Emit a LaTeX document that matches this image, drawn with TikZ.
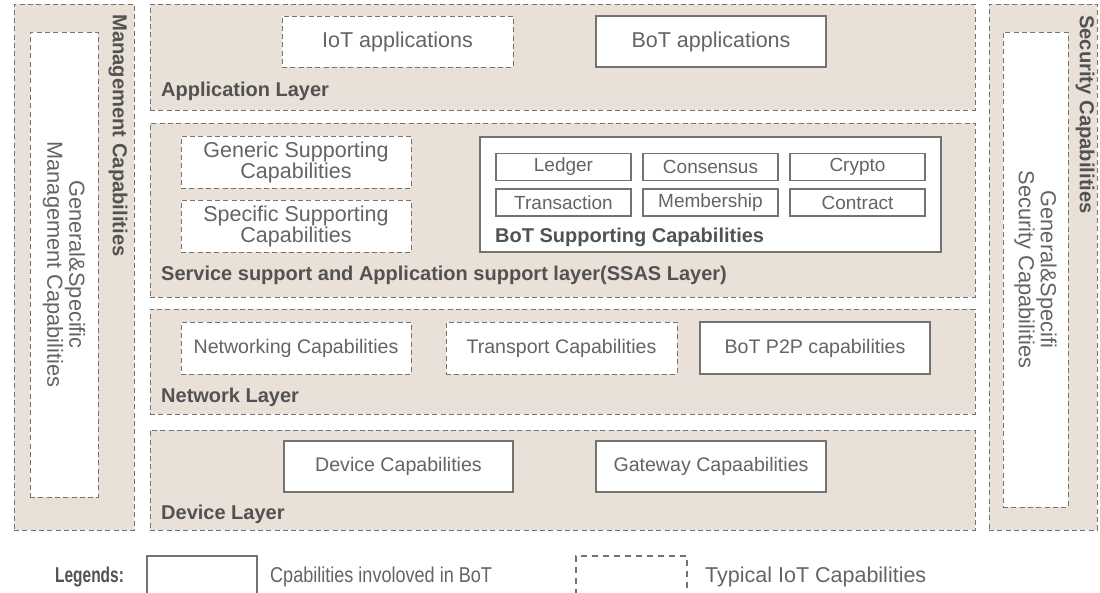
\documentclass[tikz,border=0pt]{standalone}
\usepackage{fontspec}
\setmainfont{Liberation Sans}
\definecolor{beige}{RGB}{233,224,215}
\definecolor{dline}{RGB}{115,115,115}
\definecolor{txt}{RGB}{100,100,100}
\definecolor{btxt}{RGB}{82,82,82}
\tikzset{
  panel/.style={draw=dline, line width=0.9pt, dash pattern=on 5pt off 3.3pt, fill=beige},
  iotbox/.style={draw=dline, line width=0.9pt, dash pattern=on 5pt off 3.3pt, fill=white, text=txt, align=center, font=\fontsize{21.5}{21}\selectfont},
  botbox/.style={draw=dline, line width=1.3pt, fill=white, text=txt, align=center, font=\fontsize{21.5}{21}\selectfont},
  lowfont/.style={font=\fontsize{19.6}{21}\selectfont},
  smallbox/.style={draw=dline, line width=1.1pt, fill=white, text=txt, font=\fontsize{19}{20}\selectfont, minimum width=135pt, minimum height=27pt, inner sep=0pt},
  layerlab/.style={anchor=base west, text=btxt, font=\bfseries\fontsize{20}{22}\selectfont, inner sep=0pt},
  sidelab/.style={rotate=-90, anchor=west, text=btxt, font=\bfseries\fontsize{20.2}{22}\selectfont, inner sep=0pt},
  sidetxt/.style={rotate=-90, text=txt, align=center, font=\fontsize{21.8}{22}\selectfont},
  legtext/.style={anchor=base west, text=txt, font=\fontsize{21.5}{22}\selectfont, inner sep=0pt}
}
\begin{document}
\begin{tikzpicture}[x=1pt,y=-1pt]
\useasboundingbox (0,0) rectangle (1100,593);
% side panels
\node[panel, minimum width=120pt, minimum height=526pt, inner sep=0pt] (mgmt) at (74,267) {};
\node[iotbox, minimum width=68pt, minimum height=465pt, inner sep=0pt] (mgmtin) at (64,264.5) {};
\node[sidetxt] (mgmttxt) at (mgmtin.center) {General\&Specific\\Management Capabilities};
\node[sidelab] (mgmtlab) at (118,14) {Management Capabilities};

\node[panel, minimum width=108pt, minimum height=526pt, inner sep=0pt] (sec) at (1043,267) {};
\node[iotbox, minimum width=65pt, minimum height=475pt, inner sep=0pt] (secin) at (1035.5,269.5) {};
\node[sidetxt] (sectxt) at (secin.center) {General\&Specifi\\Security Capabilities};
\node[sidelab] (seclab) at (1085,15) {Security Capabilities};

% application layer
\node[panel, minimum width=825pt, minimum height=106pt, inner sep=0pt] (app) at (562.5,57) {};
\node[iotbox, minimum width=231pt, minimum height=51pt, inner sep=0pt] (iotapp) at (397.5,41.5) {IoT applications};
\node[botbox, minimum width=230pt, minimum height=51pt, inner sep=0pt] (botapp) at (711,41.5) {BoT applications};
\node[layerlab] (applab) at (161,96.5) {Application Layer};

% SSAS layer
\node[panel, minimum width=825pt, minimum height=174pt, inner sep=0pt] (ssas) at (562.5,210) {};
\node[iotbox, minimum width=230pt, minimum height=52pt, inner sep=0pt] (gen) at (296,162) {Generic Supporting\\Capabilities};
\node[iotbox, minimum width=230pt, minimum height=52pt, inner sep=0pt] (spec) at (296,226) {Specific Supporting\\Capabilities};
\node[botbox, minimum width=461pt, minimum height=115pt, inner sep=0pt] (botsup) at (710.5,194.5) {};
\node[smallbox] (ledger) at (563.5,167) {Ledger};
\node[smallbox] (cons) at (710.5,167) {Consensus};
\node[smallbox] (crypto) at (857.5,167) {Crypto};
\node[smallbox] (trans) at (563.5,202.5) {Transaction};
\node[smallbox] (memb) at (710.5,202.5) {Membership};
\node[smallbox] (contr) at (857.5,202.5) {Contract};
\node[layerlab] (botsuplab) at (495,243) {BoT Supporting Capabilities};
\node[layerlab] (ssaslab) at (161,281) {Service support and Application support layer(SSAS Layer)};

% network layer
\node[panel, minimum width=825pt, minimum height=105pt, inner sep=0pt] (net) at (562.5,361.5) {};
\node[iotbox, lowfont, minimum width=230pt, minimum height=52pt, inner sep=0pt] (netcap) at (296,348) {Networking Capabilities};
\node[iotbox, lowfont, minimum width=231pt, minimum height=52pt, inner sep=0pt] (transp) at (561.5,348) {Transport Capabilities};
\node[botbox, lowfont, minimum width=230pt, minimum height=52pt, inner sep=0pt] (p2p) at (815,348) {BoT P2P capabilities};
\node[layerlab] (netlab) at (161,402) {Network Layer};

% device layer
\node[panel, minimum width=825pt, minimum height=100pt, inner sep=0pt] (dev) at (562.5,480) {};
\node[botbox, lowfont, minimum width=229pt, minimum height=51pt, inner sep=0pt] (devcap) at (398.5,466.5) {Device Capabilities};
\node[botbox, lowfont, minimum width=230pt, minimum height=51pt, inner sep=0pt] (gw) at (711,466.5) {Gateway Capaabilities};
\node[layerlab] (devlab) at (161,519.5) {Device Layer};

% legend
\node[layerlab, font=\bfseries\fontsize{21.5}{22}\selectfont, xscale=0.72] (leg) at (55,582) {Legends:};
\node[draw=dline, line width=1.8pt, fill=white, minimum width=110pt, minimum height=42pt, inner sep=0pt] (legbot) at (202,577) {};
\node[legtext, xscale=0.84] (legbottxt) at (270,582) {Cpabilities involoved in BoT};
\node[draw=dline, line width=1.8pt, dash pattern=on 6pt off 5pt, fill=white, minimum width=111pt, minimum height=42pt, inner sep=0pt] (legiot) at (631.5,577) {};
\node[legtext] (legiottxt) at (705,582) {Typical IoT Capabilities};
\end{tikzpicture}
\end{document}
